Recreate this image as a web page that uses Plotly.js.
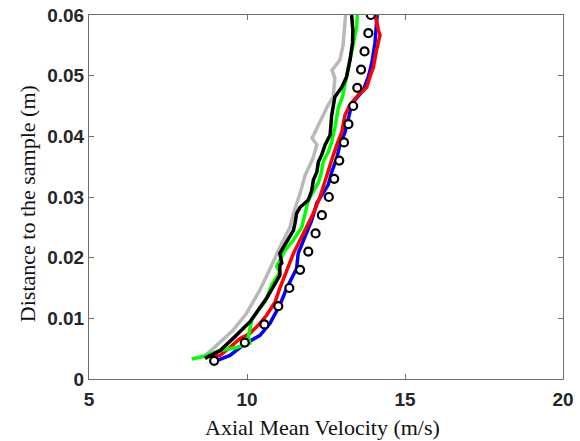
<!DOCTYPE html>
<html>
<head>
<meta charset="utf-8">
<script src="https://cdn.plot.ly/plotly-3.0.1.min.js"></script>
<style>
  html, body { margin: 0; padding: 0; background: #fff; }
  #chart { width: 580px; height: 441px; }
</style>
</head>
<body>
<div id="chart"></div>
<script>
// Measured (circles)
const measVel  = [8.96, 9.93, 10.55, 10.99, 11.34, 11.68, 11.94, 12.17, 12.37, 12.59, 12.76, 12.92, 13.07, 13.21, 13.36, 13.49, 13.61, 13.72, 13.84, 13.92];
const measDist = [0.003, 0.006, 0.009, 0.012, 0.015, 0.018, 0.021, 0.024, 0.027, 0.030, 0.033, 0.036, 0.039, 0.042, 0.045, 0.048, 0.051, 0.054, 0.057, 0.060];

// Gray series
const grayVel  = [8.63, 9.12, 9.55, 9.98, 10.40, 10.76, 11.04, 11.36, 11.47, 11.68, 11.84, 12.09, 12.21, 12.06, 12.36, 12.57, 12.73, 12.78, 12.69, 12.94, 13.04, 13.08, 13.12];
const grayDist = [0.0036, 0.0059, 0.0080, 0.0108, 0.0146, 0.0185, 0.0217, 0.0250, 0.0273, 0.0306, 0.0336, 0.0364, 0.0386, 0.0397, 0.0430, 0.0452, 0.0465, 0.0496, 0.0509, 0.0526, 0.0550, 0.0587, 0.0600];

// Blue series
const blueVel  = [8.92, 9.46, 9.88, 10.41, 10.73, 11.04, 11.26, 11.57, 11.62, 11.84, 12.05, 12.21, 12.57, 12.68, 12.84, 12.94, 13.10, 13.21, 13.31, 13.42, 13.68, 13.84, 13.95, 14.05, 14.12, 14.12];
const blueDist = [0.0028, 0.0039, 0.0056, 0.0072, 0.0092, 0.0122, 0.0150, 0.0182, 0.0207, 0.0234, 0.0262, 0.0290, 0.0320, 0.0341, 0.0364, 0.0386, 0.0407, 0.0430, 0.0452, 0.0460, 0.0476, 0.0498, 0.0521, 0.0554, 0.0592, 0.0600];

// Red series
const redVel  = [8.83, 9.15, 9.46, 9.78, 10.09, 10.36, 10.62, 10.89, 11.04, 11.26, 11.47, 11.68, 11.89, 12.10, 12.31, 12.47, 12.68, 12.84, 13.00, 13.10, 13.26, 13.52, 13.79, 13.89, 14.00, 14.10, 14.21, 14.16, 14.05];
const redDist = [0.0036, 0.0039, 0.0052, 0.0067, 0.0075, 0.0089, 0.0105, 0.0127, 0.0150, 0.0179, 0.0207, 0.0229, 0.0250, 0.0273, 0.0300, 0.0328, 0.0361, 0.0386, 0.0407, 0.0435, 0.0452, 0.0468, 0.0481, 0.0498, 0.0514, 0.0542, 0.0567, 0.0575, 0.0600];

// Green series
const greenVel  = [8.25, 8.61, 9.15, 9.67, 10.09, 10.04, 10.15, 10.35, 10.57, 10.78, 11.04, 10.94, 11.04, 11.20, 11.47, 11.73, 11.84, 11.94, 12.26, 12.36, 12.41, 12.57, 12.68, 12.78, 12.89, 13.02, 13.15, 13.26, 13.36, 13.47, 13.49];
const greenDist = [0.0033, 0.0037, 0.0047, 0.0052, 0.0059, 0.0069, 0.0097, 0.0113, 0.0127, 0.0155, 0.0176, 0.0186, 0.0196, 0.0212, 0.0229, 0.0250, 0.0273, 0.0295, 0.0324, 0.0341, 0.0358, 0.0374, 0.0391, 0.0414, 0.0447, 0.0465, 0.0498, 0.0526, 0.0554, 0.0580, 0.0600];

// Black series
const blackVel  = [8.67, 9.15, 9.56, 10.09, 10.62, 11.04, 11.04, 11.10, 11.04, 11.15, 11.36, 11.47, 11.52, 11.57, 11.68, 11.94, 12.05, 12.10, 12.21, 12.26, 12.36, 12.47, 12.63, 12.68, 12.78, 13.00, 13.15, 13.26, 13.34, 13.35, 13.31];
const blackDist = [0.0034, 0.0047, 0.0067, 0.0094, 0.0133, 0.0171, 0.0188, 0.0191, 0.0207, 0.0217, 0.0234, 0.0245, 0.0257, 0.0273, 0.0283, 0.0295, 0.0311, 0.0328, 0.0341, 0.0358, 0.0369, 0.0386, 0.0402, 0.0435, 0.0465, 0.0481, 0.0498, 0.0526, 0.0554, 0.0575, 0.0600];

// Axis ticks and titles
const xTicks = [5, 10, 15, 20];
const xTickText = ['5', '10', '15', '20'];
const yTicks = [0, 0.01, 0.02, 0.03, 0.04, 0.05, 0.06];
const yTickText = ['0', '0.01', '0.02', '0.03', '0.04', '0.05', '0.06'];
const xTitle = 'Axial Mean Velocity (m/s)';
const yTitle = 'Distance to the sample (m)';

const LW = 3.5;
function lineTrace(x, y, color, name) {
  return { x: x, y: y, type: 'scatter', mode: 'lines', name: name,
           line: { color: color, width: LW }, hoverinfo: 'skip' };
}

const traces = [
  lineTrace(grayVel, grayDist, '#b9b9b9', 'Gray'),
  lineTrace(blueVel, blueDist, '#0000ff', 'Blue'),
  lineTrace(redVel, redDist, '#ff0000', 'Red'),
  lineTrace(greenVel, greenDist, '#00ff00', 'Green'),
  lineTrace(blackVel, blackDist, '#000000', 'Black'),
  { x: measVel, y: measDist, type: 'scatter', mode: 'markers', name: 'Measured',
    marker: { symbol: 'circle', size: 8, color: '#ffffff', line: { color: '#000000', width: 2.2 } } }
];

const axisCommon = {
  showgrid: false, zeroline: false, showline: true, mirror: 'ticks',
  linecolor: '#707070', linewidth: 1, ticks: 'inside', ticklen: 5, tickwidth: 1, tickcolor: '#707070',
  tickfont: { family: 'Liberation Sans, Arial, sans-serif', size: 19, color: '#262626', weight: 'bold' }
};

const titleFont = { family: 'Liberation Serif, Times New Roman, serif', size: 22, color: '#111111' };

const layout = {
  width: 580, height: 441,
  margin: { l: 89, r: 17, t: 15, b: 62 },
  paper_bgcolor: '#ffffff', plot_bgcolor: '#ffffff',
  showlegend: false,
  xaxis: Object.assign({}, axisCommon, {
    range: [5, 20], tickvals: xTicks, ticktext: xTickText, ticklabelstandoff: 3
  }),
  yaxis: Object.assign({}, axisCommon, {
    range: [0, 0.06], tickvals: yTicks, ticktext: yTickText
  }),
  annotations: [
    { text: xTitle, xref: 'paper', yref: 'paper', x: 0.4926, y: -0.133,
      xanchor: 'center', yanchor: 'middle', showarrow: false, font: titleFont },
    { text: yTitle, xref: 'paper', yref: 'paper', x: -0.1297, y: 0.4817, textangle: -90,
      xanchor: 'center', yanchor: 'middle', showarrow: false, font: titleFont }
  ]
};

Plotly.newPlot('chart', traces, layout, { staticPlot: true, displayModeBar: false });
</script>
</body>
</html>
